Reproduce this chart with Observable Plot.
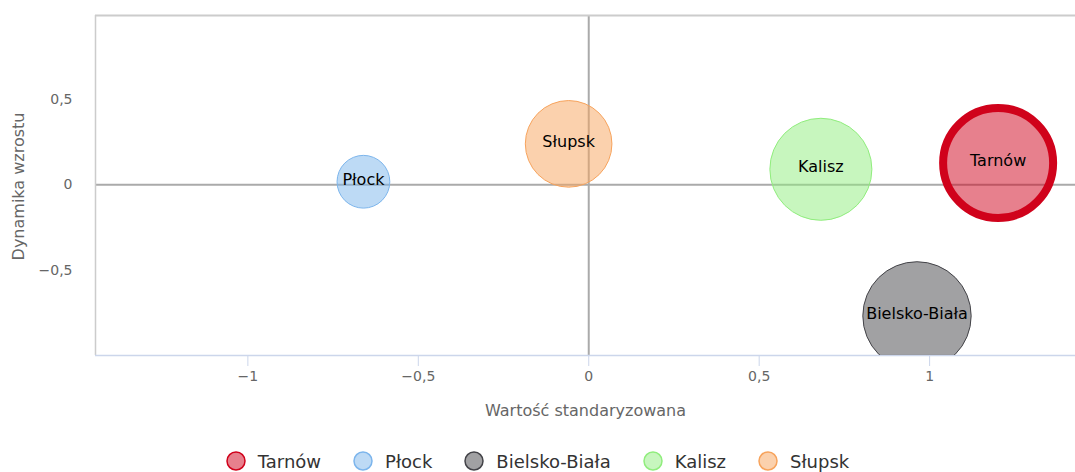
<!DOCTYPE html>
<html>
<head>
<meta charset="utf-8">
<script src="https://cdn.jsdelivr.net/npm/d3@7"></script>
<script src="https://cdn.jsdelivr.net/npm/@observablehq/plot@0.6"></script>
<style>
  html, body { margin: 0; padding: 0; background: #fff; }
  #chart svg { display: block; }
  #legend { height: 32px; display: flex; justify-content: center; align-items: center; font-family: "DejaVu Sans", sans-serif; font-size: 18px; color: #333; }
  .item { display: flex; align-items: center; margin: 0 16px; }
  .item svg { margin-right: 12px; }
</style>
</head>
<body>
<div id="chart"></div>
<div id="legend"></div>
<script>
const cities = ["Tarnów", "Płock", "Bielsko-Biała", "Kalisz", "Słupsk"];
const xValues = [1.201, -0.661, 0.963, 0.681, -0.059];
const yValues = [0.128, 0.018, -0.768, 0.091, 0.240];
const sizes = [100, 23, 97, 86, 62];
const colors = ["#d0021b", "#7cb5ec", "#434348", "#90ed7d", "#f7a35c"];
const strokeWidths = [8, 1, 1, 1, 1];
const xTicks = [-1, -0.5, 0, 0.5, 1];
const yTicks = [-0.5, 0, 0.5];
const xDomain = [-1.447, 1.428];
const yDomain = [-1.0, 0.992];
const xTitle = "Wartość standaryzowana";
const yTitle = "Dynamika wzrostu";

const data = cities.map((c, i) => ({city: c, x: xValues[i], y: yValues[i], z: sizes[i], color: colors[i], sw: strokeWidths[i]}));
const fmt = d => String(d).replace(".", ",").replace("-", "−");

const plot = Plot.plot({
  width: 1075,
  height: 445,
  marginTop: 15,
  marginBottom: 90,
  marginLeft: 95,
  marginRight: 0,
  style: {fontFamily: "DejaVu Sans, sans-serif", fontSize: "14px", color: "#666", background: "#fff"},
  x: {domain: xDomain, axis: null},
  y: {domain: yDomain, axis: null},
  r: {type: "sqrt", domain: [0, 100], range: [0, 55]},
  marks: [
    Plot.ruleX([0], {stroke: "#aaa", strokeWidth: 2}),
    Plot.ruleY([0], {stroke: "#aaa", strokeWidth: 2}),
    Plot.ruleX([xDomain[0]], {stroke: "#ccc", strokeWidth: 1.5}),
    Plot.ruleY([yDomain[1]], {stroke: "#ccc", strokeWidth: 2}),
    Plot.axisX({ticks: xTicks, tickFormat: fmt, tickSize: 11, tickPadding: 5, stroke: "#ccd6eb", fill: "#666", fontSize: 14, label: null}),
    Plot.axisY({ticks: yTicks, tickFormat: fmt, tickSize: 0, tickPadding: 23, fill: "#666", fontSize: 14, label: null}),
    Plot.ruleY([yDomain[0]], {stroke: "#ccd6eb", strokeWidth: 1.5}),
    ...data.map(d => Plot.dot([d], {x: "x", y: "y", r: "z", fill: d.color, fillOpacity: 0.5, stroke: d.color, strokeWidth: d.sw, clip: true})),
    Plot.text(data, {x: "x", y: "y", text: "city", fill: "#000", fontSize: 16, dy: -2}),
    Plot.text([xTitle], {text: d => d, frameAnchor: "bottom", dy: 55, fill: "#666", fontSize: 16, lineAnchor: "middle"}),
    Plot.text([yTitle], {text: d => d, frameAnchor: "left", textAnchor: "middle", dx: -77, dy: 1, rotate: -90, fill: "#666", fontSize: 16})
  ]
});
document.getElementById("chart").appendChild(plot);

const legend = document.getElementById("legend");
cities.forEach((c, i) => {
  const item = document.createElement("div");
  item.className = "item";
  item.innerHTML = `<svg width="20" height="20"><circle cx="10" cy="10" r="9" fill="${colors[i]}" fill-opacity="0.5" stroke="${colors[i]}" stroke-width="1.5"></circle></svg><span>${c}</span>`;
  legend.appendChild(item);
});
</script>
</body>
</html>
